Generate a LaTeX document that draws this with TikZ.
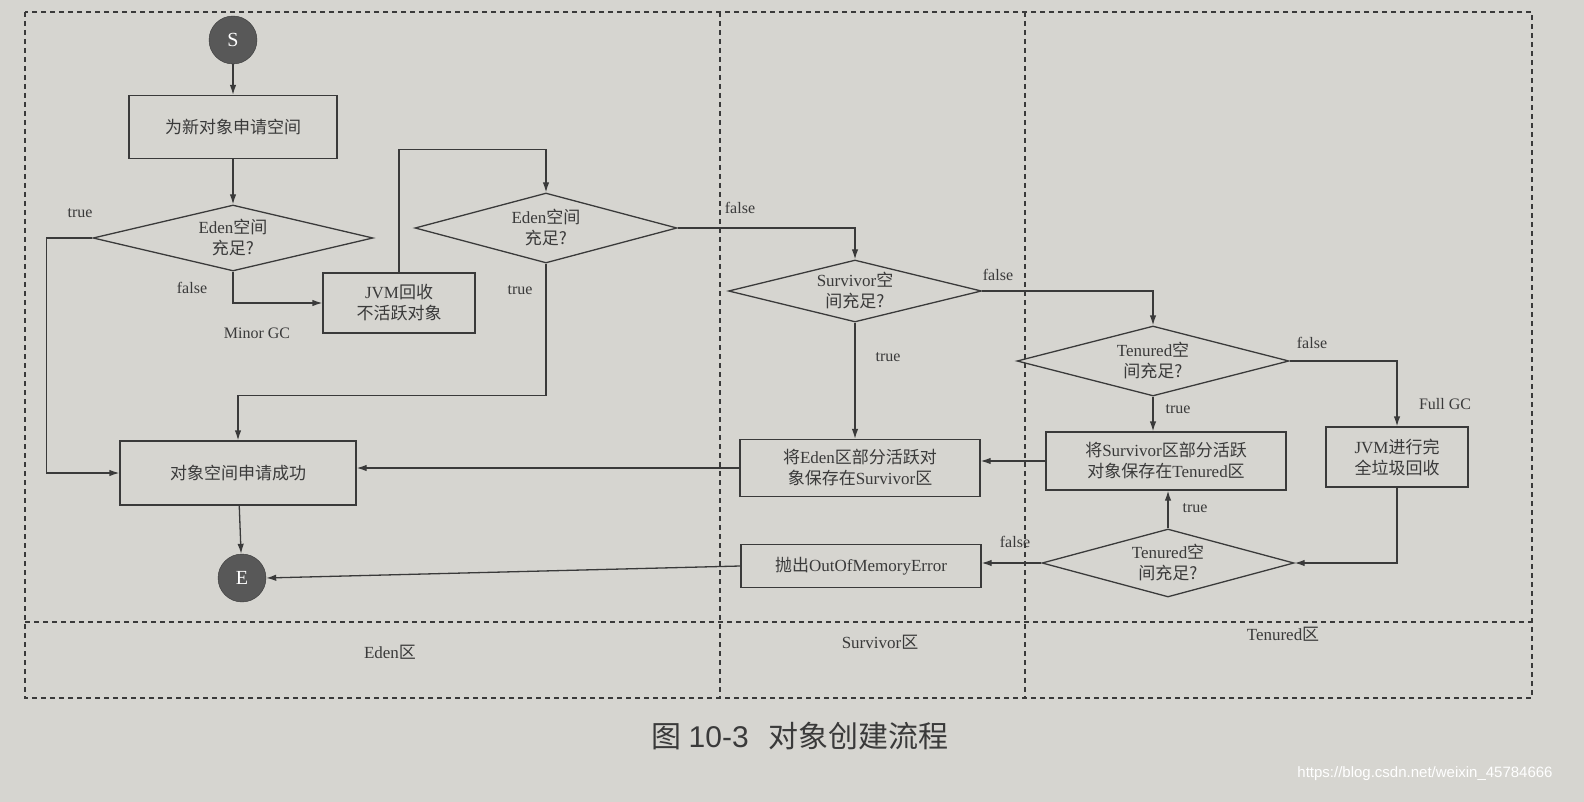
\documentclass[tikz,border=0pt]{standalone}
\usepackage{fontspec}
\setmainfont{Liberation Serif}
\newfontfamily\cjk{Noto Sans CJK SC}
\newfontfamily\capf{Liberation Sans}
\usetikzlibrary{shapes.geometric,arrows.meta}
\definecolor{bg}{HTML}{D6D5D0}
\definecolor{ink}{HTML}{3A3A3A}
\begin{document}
\begin{tikzpicture}[x=1pt,y=-1pt,
  every node/.style={text=ink,font=\fontsize{17}{21}\selectfont},
  box/.style={draw=ink,line width=1.3pt,align=center,inner sep=0pt},
  dia/.style={draw=ink,line width=1.3pt,diamond,aspect=4,inner sep=0pt,align=center},
  term/.style={circle,fill=ink!85,draw=ink,minimum size=48pt,inner sep=0pt,text=white,font=\fontsize{20}{20}\selectfont},
  lbl/.style={font=\fontsize{16}{19}\selectfont},
  ar/.style={draw=ink,line width=1.3pt,-{Latex[length=10pt,width=6.5pt]}},
  lane/.style={draw=ink,line width=1.1pt,dash pattern=on 5pt off 4pt}]
\fill[bg] (0,0) rectangle (1584,802);
\useasboundingbox (0,0) rectangle (1584,802);
% lanes
\draw[lane] (25,12) rectangle (1532,698);
\draw[lane] (720,12) -- (720,698);
\draw[lane] (1025,12) -- (1025,698);
\draw[lane] (25,622) -- (1532,622);
\node (lE) at (390,652) {Eden{\cjk 区}};
\node (lS) at (880,642) {Survivor{\cjk 区}};
\node (lT) at (1283,634) {Tenured{\cjk 区}};
% nodes
\node[term] (S) at (233,40) {S};
\node[box,minimum width=208pt,minimum height=63pt] (b1) at (233,127) {\cjk 为新对象申请空间};
\node[dia,minimum width=280pt,minimum height=66pt] (d1) at (233,238) {Eden{\cjk 空间}\\{\cjk 充足?}};
\node[dia,minimum width=262pt,minimum height=70pt] (d2) at (546,228) {Eden{\cjk 空间}\\{\cjk 充足?}};
\node[box,minimum width=152pt,minimum height=60pt] (jvm) at (399,303) {JVM{\cjk 回收}\\{\cjk 不活跃对象}};
\node[lbl] (mgc) at (257,333) {Minor GC};
\node[dia,minimum width=253pt,minimum height=62pt] (d3) at (855,291) {Survivor{\cjk 空}\\{\cjk 间充足?}};
\node[dia,minimum width=272pt,minimum height=70pt] (d4) at (1153,361) {Tenured{\cjk 空}\\{\cjk 间充足?}};
\node[box,minimum width=240pt,minimum height=57pt] (bes) at (860,468) {{\cjk 将}Eden{\cjk 区部分活跃对}\\{\cjk 象保存在}Survivor{\cjk 区}};
\node[box,minimum width=240pt,minimum height=58pt] (bst) at (1166,461) {{\cjk 将}Survivor{\cjk 区部分活跃}\\{\cjk 对象保存在}Tenured{\cjk 区}};
\node[box,minimum width=142pt,minimum height=60pt] (full) at (1397,457) {JVM{\cjk 进行完}\\{\cjk 全垃圾回收}};
\node[lbl] (fgc) at (1445,404) {Full GC};
\node[dia,minimum width=252pt,minimum height=68pt] (d5) at (1168,563) {Tenured{\cjk 空}\\{\cjk 间充足?}};
\node[box,minimum width=240pt,minimum height=43pt] (oom) at (861,566) {{\cjk 抛出}OutOfMemoryError};
\node[box,minimum width=236pt,minimum height=64pt] (ok) at (238,473) {\cjk 对象空间申请成功};
\node[term] (E) at (242,578) {E};
% connectors
\draw[ar] (S) -- (b1);
\draw[ar] (b1) -- (d1);
\draw[ar] (d1.west) -- ++(-46,0) |- (ok.west);
\node[lbl] (t1) at (80,213) {true};
\draw[ar] (d1.south) |- (jvm.west);
\node[lbl] (f1) at (192,288) {false};
\draw[ar] (jvm.north) -- ++(0,-123) -| (d2.north);
\draw[ar] (d2.south) -- ++(0,132) -| (ok.north);
\node[lbl] (t2) at (520,290) {true};
\draw[ar] (d2.east) -| (d3.north);
\node[lbl] (f2) at (740,208) {false};
\draw[ar] (d3.east) -| (d4.north);
\node[lbl] (f3) at (998,275) {false};
\draw[ar] (d3.south) -- (bes.north -| d3.south);
\node[lbl] (t3) at (888,357) {true};
\draw[ar] (d4.south) -- (bst.north -| d4.south);
\node[lbl] (t4) at (1178,409) {true};
\draw[ar] (d4.east) -| (full.north);
\node[lbl] (f4) at (1312,343) {false};
\draw[ar] (full.south) |- (d5.east);
\draw[ar] (d5.north) -- (bst.south -| d5.north);
\node[lbl] (t5) at (1195,508) {true};
\draw[ar] (d5.west) -- (d5.west -| oom.east);
\node[lbl] (f5) at (1015,542) {false};
\draw[ar] (oom.west) -- (E.east);
\draw[ar] (bst.west) -- (bes.east |- bst.west);
\draw[ar] (bes.west) -- (bes.west -| ok.east);
\draw[ar] (ok) -- (E);
% caption
\node[font=\fontsize{30}{34}\selectfont] (cap) at (800,736) {{\cjk 图} {\capf 10-3}\hspace{20pt}{\cjk 对象创建流程}};
\node[font=\capf\fontsize{15}{18}\selectfont,text=white] (wm) at (1425,774) {https://blog.csdn.net/weixin\_45784666};
\end{tikzpicture}
\end{document}
